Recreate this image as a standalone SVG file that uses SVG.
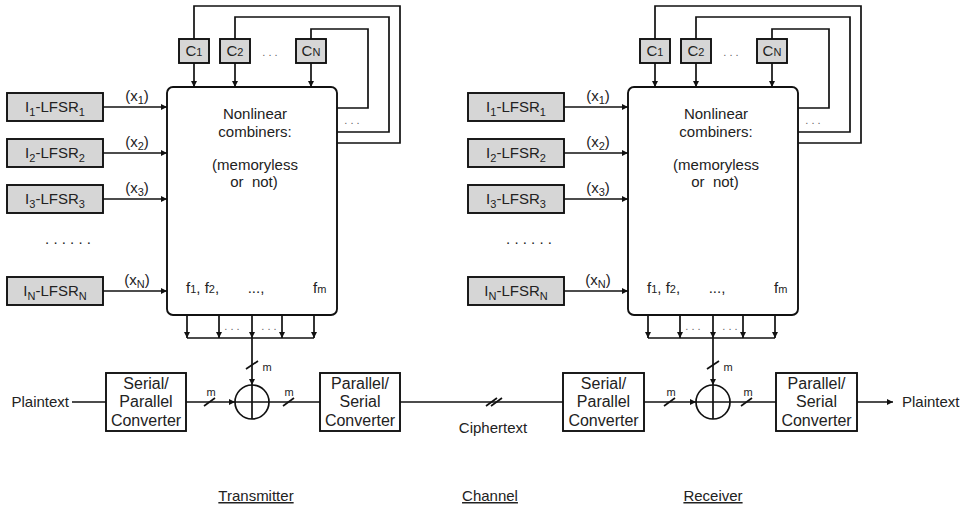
<svg xmlns="http://www.w3.org/2000/svg" width="961" height="508" viewBox="0 0 961 508">
<defs>
<marker id="ah" markerUnits="userSpaceOnUse" markerWidth="7" markerHeight="6" refX="6" refY="3" orient="auto">
<path d="M0,0 L6,3 L0,6 z" fill="#111"/>
</marker>
<style>
.ln{stroke:#111;stroke-width:1.7;fill:none}
.ar{stroke:#111;stroke-width:1.7;fill:none;marker-end:url(#ah)}
.bx{fill:#fff;stroke:#111;stroke-width:1.9}
.gb{fill:#d6d6d6;stroke:#111;stroke-width:1.9}
.t{font-family:"Liberation Sans",Arial,sans-serif;font-size:15px;fill:#222;text-anchor:middle}
.c{font-size:16px}
.s{font-size:11px}
.m{font-family:"Liberation Sans",Arial,sans-serif;font-size:11px;fill:#222;text-anchor:middle}
.d{font-family:"Liberation Sans",Arial,sans-serif;font-size:11px;fill:#666;text-anchor:middle}
.u{text-decoration:underline}
</style>
</defs>
<rect width="961" height="508" fill="#fff"/>

<!-- ===== Transmitter ===== -->
<g id="tx">
<g id="tx-lfsr1"><rect class="gb" x="7" y="93" width="96" height="28"/><text class="t" x="55" y="112">I<tspan class="s" dy="4">1</tspan><tspan dy="-4">-LFSR</tspan><tspan class="s" dy="4">1</tspan></text></g>
<g id="tx-lfsr2"><rect class="gb" x="7" y="139" width="96" height="28"/><text class="t" x="55" y="158">I<tspan class="s" dy="4">2</tspan><tspan dy="-4">-LFSR</tspan><tspan class="s" dy="4">2</tspan></text></g>
<g id="tx-lfsr3"><rect class="gb" x="7" y="185" width="96" height="28"/><text class="t" x="55" y="204">I<tspan class="s" dy="4">3</tspan><tspan dy="-4">-LFSR</tspan><tspan class="s" dy="4">3</tspan></text></g>
<text class="t" x="68" y="244">. . . . . .</text>
<g id="tx-lfsrN"><rect class="gb" x="7" y="277" width="96" height="28"/><text class="t" x="55" y="296">I<tspan class="s" dy="4">N</tspan><tspan dy="-4">-LFSR</tspan><tspan class="s" dy="4">N</tspan></text></g>

<g id="tx-c1"><rect class="gb" x="179" y="39" width="30" height="24"/><text class="t" x="194" y="56">C<tspan class="s">1</tspan></text></g>
<g id="tx-c2"><rect class="gb" x="220" y="39" width="30" height="24"/><text class="t" x="235" y="56">C<tspan class="s">2</tspan></text></g>
<text class="d" x="270" y="56">. . .</text>
<g id="tx-cN"><rect class="gb" x="296" y="39" width="30" height="24"/><text class="t" x="311" y="56">C<tspan class="s">N</tspan></text></g>

<g id="tx-comb"><rect class="bx" x="167" y="87" width="170" height="228" rx="6"/>
<text class="t" x="255" y="119">Nonlinear</text>
<text class="t" x="255" y="137">combiners:</text>
<text class="t" x="255" y="170">(memoryless</text>
<text class="t" x="254" y="187">or&#160; not)</text>
<text class="t" x="186" y="293" style="text-anchor:start">f<tspan class="s">1</tspan>, f<tspan class="s">2</tspan>,</text>
<text class="t" x="256" y="293">...,</text>
<text class="t" x="313" y="293" style="text-anchor:start">f<tspan class="s">m</tspan></text>
</g>

<g id="tx-sp"><rect class="bx" x="106" y="373" width="80" height="58"/>
<text class="t c" x="146" y="389">Serial/</text><text class="t c" x="146" y="407">Parallel</text><text class="t c" x="146" y="426">Converter</text></g>
<g id="tx-xor"><circle class="ln" cx="252" cy="402" r="17"/><path class="ln" d="M235,402 H269 M252,385 V419"/></g>
<g id="tx-ps"><rect class="bx" x="320" y="373" width="80" height="58"/>
<text class="t c" x="360" y="389">Parallel/</text><text class="t c" x="360" y="407">Serial</text><text class="t c" x="360" y="426">Converter</text></g>
</g>

<!-- ===== Receiver ===== -->
<g id="rx">
<g id="rx-lfsr1"><rect class="gb" x="468" y="93" width="96" height="28"/><text class="t" x="516" y="112">I<tspan class="s" dy="4">1</tspan><tspan dy="-4">-LFSR</tspan><tspan class="s" dy="4">1</tspan></text></g>
<g id="rx-lfsr2"><rect class="gb" x="468" y="139" width="96" height="28"/><text class="t" x="516" y="158">I<tspan class="s" dy="4">2</tspan><tspan dy="-4">-LFSR</tspan><tspan class="s" dy="4">2</tspan></text></g>
<g id="rx-lfsr3"><rect class="gb" x="468" y="185" width="96" height="28"/><text class="t" x="516" y="204">I<tspan class="s" dy="4">3</tspan><tspan dy="-4">-LFSR</tspan><tspan class="s" dy="4">3</tspan></text></g>
<text class="t" x="529" y="244">. . . . . .</text>
<g id="rx-lfsrN"><rect class="gb" x="468" y="277" width="96" height="28"/><text class="t" x="516" y="296">I<tspan class="s" dy="4">N</tspan><tspan dy="-4">-LFSR</tspan><tspan class="s" dy="4">N</tspan></text></g>

<g id="rx-c1"><rect class="gb" x="640" y="39" width="30" height="24"/><text class="t" x="655" y="56">C<tspan class="s">1</tspan></text></g>
<g id="rx-c2"><rect class="gb" x="681" y="39" width="30" height="24"/><text class="t" x="696" y="56">C<tspan class="s">2</tspan></text></g>
<text class="d" x="731" y="56">. . .</text>
<g id="rx-cN"><rect class="gb" x="757" y="39" width="30" height="24"/><text class="t" x="772" y="56">C<tspan class="s">N</tspan></text></g>

<g id="rx-comb"><rect class="bx" x="628" y="87" width="170" height="228" rx="6"/>
<text class="t" x="716" y="119">Nonlinear</text>
<text class="t" x="716" y="137">combiners:</text>
<text class="t" x="716" y="170">(memoryless</text>
<text class="t" x="715" y="187">or&#160; not)</text>
<text class="t" x="647" y="293" style="text-anchor:start">f<tspan class="s">1</tspan>, f<tspan class="s">2</tspan>,</text>
<text class="t" x="717" y="293">...,</text>
<text class="t" x="774" y="293" style="text-anchor:start">f<tspan class="s">m</tspan></text>
</g>

<g id="rx-sp"><rect class="bx" x="563" y="373" width="81" height="58"/>
<text class="t c" x="603.5" y="389">Serial/</text><text class="t c" x="603.5" y="407">Parallel</text><text class="t c" x="603.5" y="426">Converter</text></g>
<g id="rx-xor"><circle class="ln" cx="713" cy="402" r="17"/><path class="ln" d="M696,402 H730 M713,385 V419"/></g>
<g id="rx-ps"><rect class="bx" x="776" y="373" width="81" height="58"/>
<text class="t c" x="816.5" y="389">Parallel/</text><text class="t c" x="816.5" y="407">Serial</text><text class="t c" x="816.5" y="426">Converter</text></g>
</g>

<!-- ===== Connectors ===== -->
<g id="connectors">
<path class="ar" d="M103,107 H167"/><path class="ar" d="M103,153 H167"/><path class="ar" d="M103,199 H167"/><path class="ar" d="M103,291 H167"/>
<text class="t" x="137" y="101">(x<tspan class="s" dy="3">1</tspan><tspan dy="-3">)</tspan></text>
<text class="t" x="137" y="147">(x<tspan class="s" dy="3">2</tspan><tspan dy="-3">)</tspan></text>
<text class="t" x="137" y="193">(x<tspan class="s" dy="3">3</tspan><tspan dy="-3">)</tspan></text>
<text class="t" x="137" y="285">(x<tspan class="s" dy="3">N</tspan><tspan dy="-3">)</tspan></text>
<path class="ar" d="M194,63 V87"/><path class="ar" d="M235,63 V87"/><path class="ar" d="M311,63 V87"/>
<path class="ln" d="M194,39 V6 H400 V143 H337"/>
<path class="ln" d="M235,39 V17 H389 V132 H337"/>
<path class="ln" d="M311,39 V29 H368 V108 H337"/>
<text class="d" x="352" y="124">. . .</text>
<path class="ar" d="M187,315 V338"/><path class="ar" d="M219,315 V338"/><path class="ar" d="M252,315 V338"/><path class="ar" d="M282,315 V338"/><path class="ar" d="M314,315 V338"/>
<path class="ln" d="M187,338 H314"/>
<text class="d" x="232" y="330">. . .</text><text class="d" x="269" y="330">. . .</text>
<path class="ar" d="M252,338 V385"/>
<path class="ln" d="M246,369 L258,361"/><text class="m" x="267" y="371">m</text>
<text class="t" x="69" y="407" style="text-anchor:end">Plaintext</text>
<path class="ln" d="M72,402 H106"/>
<path class="ar" d="M186,402 H235"/>
<path class="ln" d="M204,406 L215,398"/><text class="m" x="211" y="396">m</text>
<path class="ln" d="M269,402 H320"/>
<path class="ln" d="M283,406 L294,398"/><text class="m" x="289" y="396">m</text>
<path class="ln" d="M400,402 H563"/>
<path class="ln" d="M486,406 L497,398 M491,406 L502,398"/>
<text class="t" x="493" y="433">Ciphertext</text>

<path class="ar" d="M564,107 H628"/><path class="ar" d="M564,153 H628"/><path class="ar" d="M564,199 H628"/><path class="ar" d="M564,291 H628"/>
<text class="t" x="598" y="101">(x<tspan class="s" dy="3">1</tspan><tspan dy="-3">)</tspan></text>
<text class="t" x="598" y="147">(x<tspan class="s" dy="3">2</tspan><tspan dy="-3">)</tspan></text>
<text class="t" x="598" y="193">(x<tspan class="s" dy="3">3</tspan><tspan dy="-3">)</tspan></text>
<text class="t" x="598" y="285">(x<tspan class="s" dy="3">N</tspan><tspan dy="-3">)</tspan></text>
<path class="ar" d="M655,63 V87"/><path class="ar" d="M696,63 V87"/><path class="ar" d="M772,63 V87"/>
<path class="ln" d="M655,39 V6 H861 V143 H798"/>
<path class="ln" d="M696,39 V17 H850 V132 H798"/>
<path class="ln" d="M772,39 V29 H829 V108 H798"/>
<text class="d" x="813" y="124">. . .</text>
<path class="ar" d="M648,315 V338"/><path class="ar" d="M680,315 V338"/><path class="ar" d="M713,315 V338"/><path class="ar" d="M743,315 V338"/><path class="ar" d="M775,315 V338"/>
<path class="ln" d="M648,338 H775"/>
<text class="d" x="693" y="330">. . .</text><text class="d" x="730" y="330">. . .</text>
<path class="ar" d="M713,338 V385"/>
<path class="ln" d="M707,369 L719,361"/><text class="m" x="728" y="371">m</text>
<path class="ar" d="M644,402 H696"/>
<path class="ln" d="M664,406 L675,398"/><text class="m" x="671" y="396">m</text>
<path class="ln" d="M730,402 H776"/>
<path class="ln" d="M741,406 L752,398"/><text class="m" x="748" y="396">m</text>
<path class="ar" d="M857,402 H893"/>
<text class="t" x="902" y="407" style="text-anchor:start">Plaintext</text>
</g>

<text class="t u" x="256" y="501">Transmitter</text>
<text class="t u" x="490" y="501">Channel</text>
<text class="t u" x="713" y="501">Receiver</text>
</svg>
